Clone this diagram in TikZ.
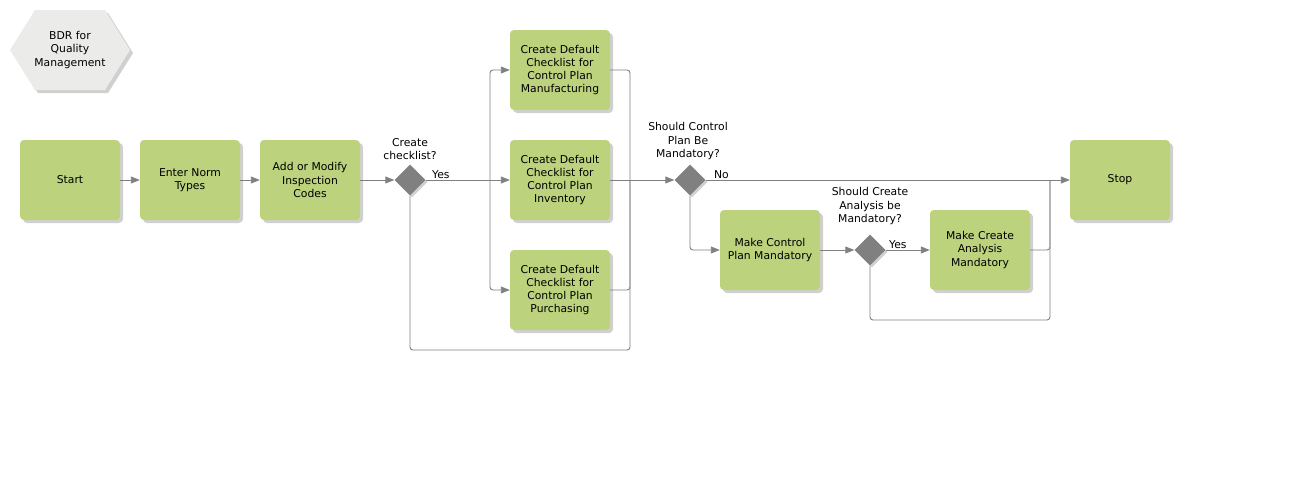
\documentclass[tikz,border=0pt]{standalone}
\usepackage{fontspec}
\setmainfont{DejaVu Sans}
\usetikzlibrary{shapes.geometric,arrows.meta,shadows}
\definecolor{boxgreen}{HTML}{BCD27D}
\definecolor{linegray}{HTML}{808080}
\definecolor{hexgray}{HTML}{EBEBEA}
\definecolor{shgray}{HTML}{D0D0D0}
\begin{document}
\begin{tikzpicture}[x=1pt,y=-1pt,
  txt/.style={font=\fontsize{10.8}{13.3}\selectfont, align=center, text=black},
  box/.style={txt, fill=boxgreen, rounded corners=4pt, minimum width=100pt, minimum height=80pt, inner sep=2pt,
    drop shadow={shadow xshift=3pt, shadow yshift=-3pt, fill=shgray, opacity=1}},
  decision/.style={diamond, shape aspect=1, fill=linegray, minimum width=31pt, minimum height=31pt, inner sep=0pt,
    drop shadow={shadow xshift=2pt, shadow yshift=-2pt, fill=shgray, opacity=1}},
  conn/.style={draw=linegray, line width=0.9pt, rounded corners=3pt},
  arr/.style={conn, -{Triangle[length=9pt,width=7pt]}},
  lbl/.style={txt, inner sep=1pt}
]
\useasboundingbox (0,0) rectangle (1314,479);

% title hexagon
\fill[shgray] (13,53) -- (38,13) -- (108,13) -- (133,53) -- (108,93) -- (38,93) -- cycle;
\fill[hexgray] (10,50) -- (35,10) -- (105,10) -- (130,50) -- (105,90) -- (35,90) -- cycle;
\node[txt] (title) at (70,50) {BDR for\\Quality\\Management};

% boxes
\node[box] (start) at (70,180) {Start};
\node[box] (norm) at (190,180) {Enter Norm\\Types};
\node[box] (codes) at (310,180) {Add or Modify\\Inspection\\Codes};
\node[decision] (d1) at (410,180) {};
\node[lbl, anchor=south] (d1l) at (410,161) {Create\\checklist?};

\node[box] (manu) at (560,70) {Create Default\\Checklist for\\Control Plan\\Manufacturing};
\node[box] (inv) at (560,180) {Create Default\\Checklist for\\Control Plan\\Inventory};
\node[box] (pur) at (560,290) {Create Default\\Checklist for\\Control Plan\\Purchasing};

\node[decision] (d2) at (690,180) {};
\node[lbl, anchor=south] (d2l) at (688,161) {Should Control\\Plan Be\\Mandatory?};

\node[box] (mcp) at (770,250) {Make Control\\Plan Mandatory};
\node[decision] (d3) at (870,250) {};
\node[lbl, anchor=south] (d3l) at (870,226) {Should Create\\Analysis be\\Mandatory?};
\node[box] (mca) at (980,250) {Make Create\\Analysis\\Mandatory};

\node[box] (stop) at (1120,180) {Stop};

% junction coordinates
\coordinate (j1) at (490,180);
\coordinate (j2) at (630,180);
\coordinate (j3) at (1050,180);

% connectors
\draw[arr] (start) -- (norm);
\draw[arr] (norm) -- (codes);
\draw[arr] (codes) -- (d1);
\draw[arr] (d1) -- node[lbl, pos=0, anchor=south west, xshift=5pt] {Yes} (inv);
\draw[arr] (j1) |- (manu.west);
\draw[arr] (j1) |- (pur.west);

\draw[conn] (manu.east) -| (j2);
\draw[conn] (pur.east) -| (j2);
\draw[conn] (d1.south) |- (630,350) -- (j2);
\draw[arr] (inv.east) -- (d2);

\draw[arr] (d2) -- node[lbl, pos=0, anchor=south west, xshift=7pt] {No} (stop);
\draw[arr] (d2.south) |- (mcp.west);
\draw[arr] (mcp) -- (d3);
\draw[arr] (d3) -- node[lbl, pos=0, anchor=south west, xshift=2pt] {Yes} (mca);
\draw[conn] (mca.east) -| (j3);
\draw[conn] (d3.south) |- (1050,320) -- (j3);
\end{tikzpicture}
\end{document}
